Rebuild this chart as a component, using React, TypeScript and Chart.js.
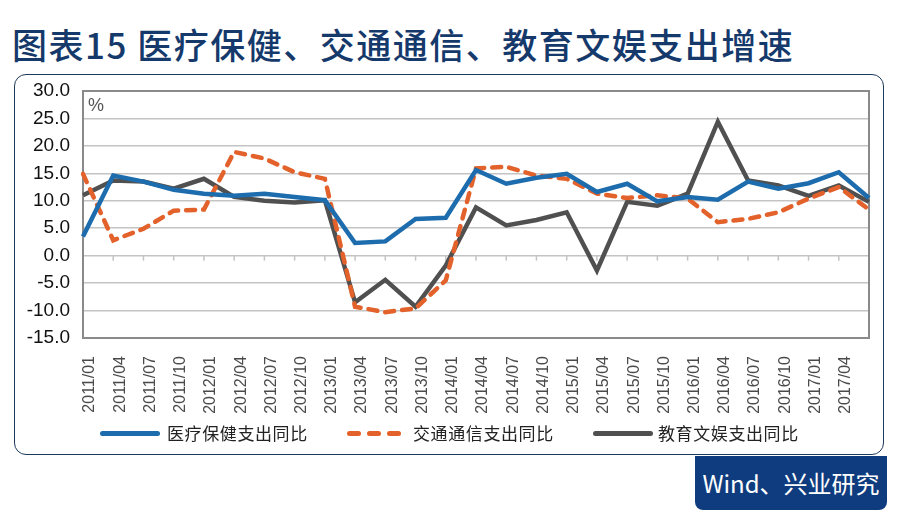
import React, { useEffect, useRef } from "react";
import { Chart, registerables } from "chart.js";

Chart.register(...registerables);

const labels = [
  "2011/01", "2011/04", "2011/07", "2011/10",
  "2012/01", "2012/04", "2012/07", "2012/10",
  "2013/01", "2013/04", "2013/07", "2013/10",
  "2014/01", "2014/04", "2014/07", "2014/10",
  "2015/01", "2015/04", "2015/07", "2015/10",
  "2016/01", "2016/04", "2016/07", "2016/10",
  "2017/01", "2017/04", "2017/07",
];
const shownLabelCount = 26;

const medical = [3.5, 14.6, 13.5, 12.0, 11.3, 10.9, 11.3, 10.7, 10.1, 2.3, 2.6, 6.7, 6.9, 15.6, 13.1, 14.2, 14.9, 11.6, 13.1, 9.9, 10.7, 10.2, 13.5, 12.2, 13.2, 15.2, 10.5];
const transport = [14.9, 2.8, 4.9, 8.2, 8.4, 18.9, 17.7, 15.2, 14.0, -9.3, -10.3, -9.6, -4.5, 15.9, 16.2, 14.6, 14.0, 11.3, 10.5, 11.0, 10.4, 6.1, 6.7, 7.9, 10.4, 12.5, 8.4];
const education = [11.0, 13.7, 13.5, 12.2, 14.0, 10.7, 10.0, 9.7, 10.1, -8.5, -4.4, -9.3, -1.8, 8.8, 5.5, 6.5, 7.9, -2.7, 9.8, 9.1, 11.3, 24.4, 13.7, 12.8, 10.9, 12.8, 9.8];

const seriesNames = ["医疗保健支出同比", "交通通信支出同比", "教育文娱支出同比"];
const yMin = -15;
const yMax = 30;
const yStep = 5;

const BLUE = "#1d6cad";
const ORANGE = "#e3612a";
const GRAY = "#505050";
const NAVY = "#15396b";

const framePlugin = {
  id: "frame",
  beforeDatasetsDraw(chart: any) {
    const { ctx, chartArea, scales } = chart;
    ctx.save();
    const y0 = scales.y.getPixelForValue(0);
    ctx.strokeStyle = "#c4c4c4";
    ctx.lineWidth = 1.5;
    for (let i = 0; i < labels.length; i++) {
      const x = scales.x.getPixelForValue(i);
      ctx.beginPath();
      ctx.moveTo(x, y0);
      ctx.lineTo(x, y0 + 5);
      ctx.stroke();
    }
    ctx.strokeStyle = "#8a8a8a";
    ctx.lineWidth = 2;
    ctx.strokeRect(chartArea.left, chartArea.top, chartArea.right - chartArea.left, chartArea.bottom - chartArea.top);
    ctx.restore();
  },
};

function ChartCanvas() {
  const ref = useRef<HTMLCanvasElement | null>(null);
  useEffect(() => {
    if (!ref.current) return;
    const chart = new Chart(ref.current, {
      type: "line",
      data: {
        labels,
        datasets: [
          { label: seriesNames[0], data: medical, borderColor: BLUE, backgroundColor: BLUE, borderWidth: 4.5, pointRadius: 0, tension: 0, borderJoinStyle: "miter" },
          { label: seriesNames[1], data: transport, borderColor: ORANGE, backgroundColor: ORANGE, borderWidth: 4.5, pointRadius: 0, tension: 0, borderDash: [9, 8], borderCapStyle: "round" },
          { label: seriesNames[2], data: education, borderColor: GRAY, backgroundColor: GRAY, borderWidth: 4.5, pointRadius: 0, tension: 0, borderJoinStyle: "miter" },
        ],
      },
      options: {
        responsive: false,
        animation: false,
        devicePixelRatio: 1,
        layout: { padding: { left: 20, right: 31, top: 91, bottom: 101 } },
        plugins: { legend: { display: false }, tooltip: { enabled: false } },
        scales: {
          x: {
            type: "category",
            offset: false,
            grid: { display: false },
            border: { display: false },
            afterFit: (s: any) => { s.height = 80; },
            ticks: {
              autoSkip: false,
              maxRotation: 90,
              minRotation: 90,
              labelOffset: 7,
              padding: 10,
              color: "#4a4a4a",
              font: { family: "Liberation Sans, Arial, sans-serif", size: 16 },
              callback: (_v: any, i: number) => (i < shownLabelCount ? labels[i] : ""),
            },
          },
          y: {
            min: yMin,
            max: yMax,
            afterFit: (s: any) => { s.width = 63; },
            grid: { color: "#c4c4c4", lineWidth: 1.5, drawTicks: false },
            border: { display: false },
            ticks: {
              stepSize: yStep,
              padding: 13,
              color: "#111",
              font: { family: "Liberation Sans, Arial, sans-serif", size: 19 },
              callback: (v: any) => Number(v).toFixed(1),
            },
          },
        },
      },
      plugins: [framePlugin],
    } as any);
    return () => chart.destroy();
  }, []);
  return <canvas ref={ref} width={900} height={519} style={{ position: "absolute", left: 0, top: 0, width: 900, height: 519 }} />;
}

const legendText: React.CSSProperties = {
  position: "absolute",
  top: 421,
  fontFamily: "'Noto Sans CJK SC', sans-serif",
  fontSize: 17,
  letterSpacing: 0.6,
  color: "#222",
  lineHeight: "24px",
  whiteSpace: "nowrap",
};

export default function App() {
  const bar = (left: number, width: number, color: string): React.CSSProperties => ({
    position: "absolute", left, top: 431, width, height: 5, borderRadius: 3, background: color,
  });
  return (
    <div style={{ position: "absolute", left: 0, top: 0, width: 900, height: 519, background: "#fff", overflow: "hidden" }}>
      <div style={{ position: "absolute", left: 12, top: 22, fontFamily: "'Noto Sans CJK SC', sans-serif", fontWeight: 500, fontSize: 35, letterSpacing: 1.5, color: NAVY, lineHeight: "44px", whiteSpace: "nowrap" }}>
        图表15 医疗保健、交通通信、教育文娱支出增速
      </div>
      <div style={{ position: "absolute", left: 14, top: 74, width: 870, height: 381, border: "1.5px solid #1d3a5c", borderRadius: 12, boxSizing: "border-box" }} />
      <div style={{ position: "absolute", left: 695, top: 456, width: 192, height: 54, background: "#0f3c7e", borderRadius: "0 0 8px 8px", color: "#fff", fontFamily: "'Noto Sans CJK SC', sans-serif", fontSize: 24, lineHeight: "54px", textAlign: "center", whiteSpace: "nowrap" }}>
        Wind、兴业研究
      </div>
      <ChartCanvas />
      <div style={{ position: "absolute", left: 88, top: 95, fontFamily: "Liberation Sans, Arial, sans-serif", fontSize: 18, color: "#555" }}>%</div>
      <div style={bar(100, 60, BLUE)} />
      <div style={{ ...legendText, left: 167 }}>{seriesNames[0]}</div>
      <div style={bar(347, 14, ORANGE)} />
      <div style={bar(367, 14, ORANGE)} />
      <div style={bar(387, 14, ORANGE)} />
      <div style={{ ...legendText, left: 413 }}>{seriesNames[1]}</div>
      <div style={bar(593, 60, GRAY)} />
      <div style={{ ...legendText, left: 658 }}>{seriesNames[2]}</div>
    </div>
  );
}
